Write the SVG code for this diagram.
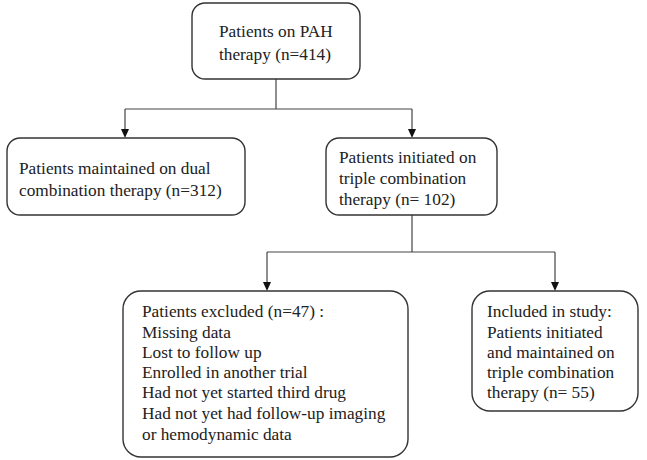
<svg xmlns="http://www.w3.org/2000/svg" width="647" height="460" viewBox="0 0 647 460">
<defs>
<style>
.box{fill:#fff;stroke:#333;stroke-width:1.4}
.t{font-family:"Liberation Serif","Times New Roman",serif;font-size:17.3px;fill:#222}
.c{fill:none;stroke:#444;stroke-width:1.2}
.ah{fill:#111}
</style>
</defs>
<rect width="647" height="460" fill="#fff"/>
<g id="connectors">
<path class="c" d="M276,79 V109 M125,109 H412"/>
<path class="c" d="M125,109 V130"/>
<path class="c" d="M412,109 V130"/>
<polygon class="ah" points="121,129 129,129 125,138"/>
<polygon class="ah" points="408,129 416,129 412,138"/>
<path class="c" d="M412,215 V252 M267,252 H555"/>
<path class="c" d="M267,252 V283"/>
<path class="c" d="M555,252 V283"/>
<polygon class="ah" points="263,282 271,282 267,291"/>
<polygon class="ah" points="551,282 559,282 555,291"/>
</g>
<g id="top">
<rect class="box" x="192" y="3" width="168" height="76" rx="13"/>
<text class="t" x="219" y="37">Patients on PAH</text>
<text class="t" x="219" y="60">therapy (n=414)</text>
</g>
<g id="dual">
<rect class="box" x="7" y="138" width="238" height="77" rx="13"/>
<text class="t" x="19" y="174">Patients maintained on dual</text>
<text class="t" x="19" y="196">combination therapy (n=312)</text>
</g>
<g id="triple">
<rect class="box" x="326" y="138" width="171" height="77" rx="13"/>
<text class="t" x="339" y="163">Patients initiated on</text>
<text class="t" x="339" y="184">triple combination</text>
<text class="t" x="339" y="205">therapy (n= 102)</text>
</g>
<g id="excluded">
<rect class="box" x="123" y="291" width="285" height="166" rx="18"/>
<text class="t" x="142" y="317">Patients excluded (n=47) :</text>
<text class="t" x="142" y="338">Missing data</text>
<text class="t" x="142" y="358">Lost to follow up</text>
<text class="t" x="142" y="378">Enrolled in another trial</text>
<text class="t" x="142" y="398">Had not yet started third drug</text>
<text class="t" x="142" y="419">Had not yet had follow-up imaging</text>
<text class="t" x="142" y="440">or hemodynamic data</text>
</g>
<g id="included">
<rect class="box" x="472" y="291" width="166" height="120" rx="18"/>
<text class="t" x="487" y="317">Included in study:</text>
<text class="t" x="487" y="338">Patients initiated</text>
<text class="t" x="487" y="358">and maintained on</text>
<text class="t" x="487" y="378">triple combination</text>
<text class="t" x="487" y="398">therapy (n= 55)</text>
</g>
</svg>
